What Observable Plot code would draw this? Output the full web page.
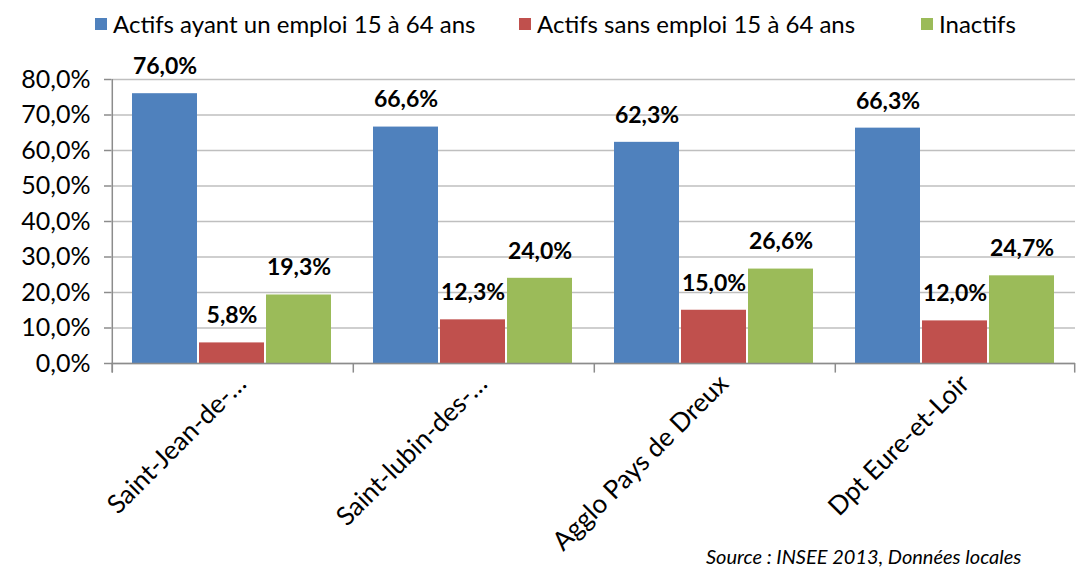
<!DOCTYPE html>
<html>
<head>
<meta charset="utf-8">
<script src="https://cdn.jsdelivr.net/npm/d3@7"></script>
<script src="https://cdn.jsdelivr.net/npm/@observablehq/plot@0.6"></script>
<style>
  html, body { margin: 0; padding: 0; background: #fff; width: 1076px; height: 569px; overflow: hidden; }
  #wrap { position: relative; width: 1076px; height: 569px; font-family: Lato, "Noto Sans", sans-serif; }
  .leg { position: absolute; top: 8px; height: 32px; line-height: 32px; font-size: 24px; color: #000; white-space: nowrap; }
  .sw { position: absolute; top: 10px; width: 12px; height: 12px; }
  .leg span.t { position: absolute; white-space: nowrap; }
  #source { position: absolute; left: 706px; top: 544px; font-size: 20px; font-style: italic; color: #000; white-space: nowrap; }
  #chart { position: absolute; left: 0; top: 0; }
</style>
</head>
<body>
<div id="wrap">
  <div id="chart"></div>
  <div id="legend"></div>
  <div id="source">Source : INSEE 2013, Données locales</div>
</div>
<script>
const categories = ["Saint-Jean-de-…", "Saint-lubin-des-…", "Agglo Pays de Dreux", "Dpt Eure-et-Loir"];
const series = ["Actifs ayant un emploi 15 à 64 ans", "Actifs sans emploi 15 à 64 ans", "Inactifs"];
const actifsAvecEmploi = [76.0, 66.6, 62.3, 66.3];
const actifsSansEmploi = [5.8, 12.3, 15.0, 12.0];
const inactifs = [19.3, 24.0, 26.6, 24.7];
const colors = ["#4F81BD", "#C0504D", "#9BBB59"];
const yTicks = [0, 10, 20, 30, 40, 50, 60, 70, 80];

const values = [actifsAvecEmploi, actifsSansEmploi, inactifs];
const data = [];
categories.forEach((c, i) => {
  series.forEach((s, j) => data.push({cat: c, series: s, value: values[j][i]}));
});
const fmt = v => v.toFixed(1).replace(".", ",") + "%";

// legend
const legendPos = [95, 519, 921];
const legend = document.getElementById("legend");
series.forEach((s, j) => {
  const item = document.createElement("div");
  item.className = "leg";
  item.style.left = legendPos[j] + "px";
  item.innerHTML = `<div class="sw" style="left:0;background:${colors[j]}"></div><span class="t" style="left:18px">${s}</span>`;
  legend.appendChild(item);
});

const first = data.filter(d => d.cat === categories[0] && d.series === series[0]);
const starts = data.filter(d => d.series === series[0]);
const lastEnd = data.filter(d => d.cat === categories[3] && d.series === series[2]);
const edgeDx = 52.7;

const plot = Plot.plot({
  width: 1076,
  height: 569,
  marginTop: 79,
  marginBottom: 206,
  marginLeft: 110,
  marginRight: 0,
  style: {fontFamily: "Lato, 'Noto Sans', sans-serif", fontSize: "24px", color: "#000", background: "transparent"},
  fx: {domain: categories, padding: 0, label: null},
  x: {domain: series, paddingInner: 0.03, paddingOuter: 0.29, axis: null},
  y: {domain: [0, 80], label: null},
  color: {domain: series, range: colors},
  marks: [
    Plot.gridY(yTicks, {stroke: "#BFBFBF", strokeOpacity: 1, strokeWidth: 1.5}),
    Plot.axisY(yTicks, {tickFormat: fmt, tickSize: 7, tickPadding: 14, stroke: "#8C8C8C", strokeWidth: 1.5, fontSize: 25, label: null}),
    Plot.barY(data, {fx: "cat", x: "series", y: "value", fill: "series"}),
    Plot.ruleY([0], {stroke: "#8C8C8C", strokeWidth: 1.5}),
    Plot.ruleX(first, {fx: "cat", x: "series", y1: -2.7, y2: 80, dx: -edgeDx, stroke: "#8C8C8C", strokeWidth: 1.5}),
    Plot.ruleX(starts, {fx: "cat", x: "series", y1: -2.7, y2: 0, dx: -edgeDx, stroke: "#8C8C8C", strokeWidth: 1.5}),
    Plot.ruleX(lastEnd, {fx: "cat", x: "series", y1: -2.7, y2: 0, dx: edgeDx, stroke: "#8C8C8C", strokeWidth: 1.5}),
    Plot.text(data, {fx: "cat", x: "series", y: "value", text: d => fmt(d.value), dy: -27, fontWeight: "bold", fontSize: 23, fill: "#000"}),
    Plot.axisFx({anchor: "bottom", tickRotate: -45, tickSize: 0, tickPadding: 16, dx: 10, fontSize: 26, label: null})
  ]
});
document.getElementById("chart").appendChild(plot);
</script>
</body>
</html>
